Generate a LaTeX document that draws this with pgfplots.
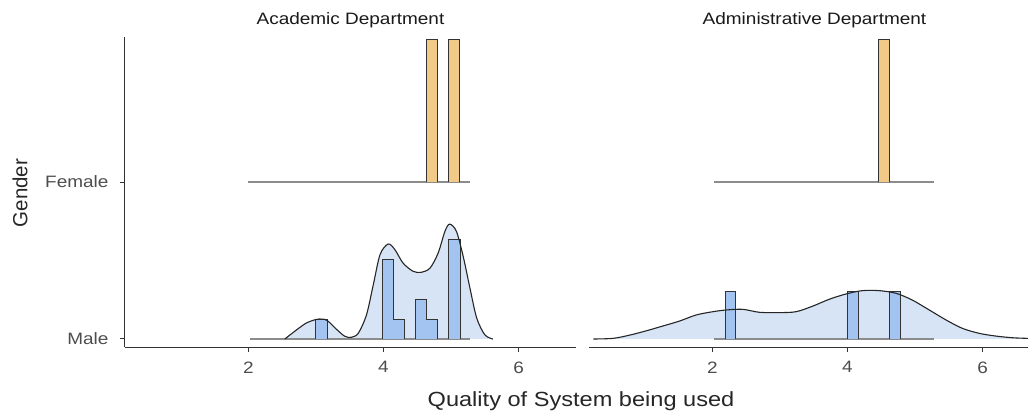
\documentclass[border=0pt]{standalone}
\usepackage{pgfplots}
\pgfplotsset{compat=1.18}
\usepackage{fontspec}
\setmainfont{Liberation Sans}[FakeStretch=1.15]
\newfontfamily\plainfont{Liberation Sans}
\definecolor{densfill}{RGB}{214,228,246}
\definecolor{histfill}{RGB}{163,195,240}
\definecolor{femfill}{RGB}{241,202,136}
\definecolor{axcol}{RGB}{51,51,51}
\definecolor{tickcol}{RGB}{77,77,77}
\definecolor{basecol}{RGB}{140,140,140}
\pgfplotsset{
 ridge/.style={
  scale only axis, width=451pt, height=310pt,
  xmin=0.175, xmax=6.85, ymin=0.949, ymax=2.924,
  axis x line=bottom, axis y line=left,
  axis line style={-, draw=axcol, line width=1pt},
  xtick={2,4,6}, tick align=outside, major tick length=5pt,
  tick style={draw=axcol, line width=1pt},
  ticklabel style={font=\fontsize{16.5}{18}\selectfont, text=tickcol},
  xticklabel style={yshift=-6pt},
  yticklabel style={xshift=-8pt},
  /pgf/number format/assume math mode=true,
  title style={at={(0.5,1)}, anchor=center, yshift=11pt, font=\fontsize{16.5}{18}\selectfont, text=black!90},
 },
 dens/.style={draw=black!85, line width=1.1pt, smooth, tension=0.5},
 densf/.style={fill=densfill, draw=none, smooth, tension=0.5},
 hbar/.style={fill=histfill, draw=black!80, line width=1pt},
 fbar/.style={fill=femfill, draw=black!80, line width=1pt},
 base/.style={draw=basecol, line width=1.5pt},
}
\begin{document}
\begin{tikzpicture}
\begin{axis}[ridge, at={(125pt,63pt)}, anchor=south west,
  ytick={1,2}, yticklabels={Male,Female},
  title={Academic Department}]
% Male density fill
\addplot[densf] coordinates {(2.54,1.000) (2.72,1.060) (2.86,1.102) (3.00,1.124) (3.09,1.127) (3.17,1.117) (3.31,1.060) (3.43,1.017) (3.53,1.011) (3.63,1.038) (3.75,1.155) (3.85,1.346) (3.95,1.538) (4.07,1.605) (4.17,1.569) (4.29,1.484) (4.44,1.431) (4.56,1.425) (4.69,1.452) (4.81,1.548) (4.91,1.686) (4.98,1.732) (5.08,1.686) (5.18,1.527) (5.28,1.325) (5.38,1.134) (5.50,1.027) (5.62,1.000)};
% histogram baseline
\addplot[base] coordinates {(2.02,1) (5.28,1)};
\addplot[hbar] coordinates {(3.00,1) (3.00,1.124) (3.165,1.124) (3.165,1)};
\addplot[hbar] coordinates {(3.98,1) (3.98,1.506) (4.145,1.506) (4.145,1.127) (4.31,1.127) (4.31,1)};
\addplot[hbar] coordinates {(4.475,1) (4.475,1.252) (4.64,1.252) (4.64,1.127) (4.805,1.127) (4.805,1)};
\addplot[hbar] coordinates {(4.97,1) (4.97,1.633) (5.135,1.633) (5.135,1)};
% Male density line
\addplot[dens] coordinates {(2.54,1.000) (2.72,1.060) (2.86,1.102) (3.00,1.124) (3.09,1.127) (3.17,1.117) (3.31,1.060) (3.43,1.017) (3.53,1.011) (3.63,1.038) (3.75,1.155) (3.85,1.346) (3.95,1.538) (4.07,1.605) (4.17,1.569) (4.29,1.484) (4.44,1.431) (4.56,1.425) (4.69,1.452) (4.81,1.548) (4.91,1.686) (4.98,1.732) (5.08,1.686) (5.18,1.527) (5.28,1.325) (5.38,1.134) (5.50,1.027) (5.62,1.000)};
% Female
\addplot[base] coordinates {(2.0,2) (5.28,2)};
\addplot[fbar] coordinates {(4.64,2) (4.64,2.909) (4.80,2.909) (4.80,2)};
\addplot[fbar] coordinates {(4.96,2) (4.96,2.909) (5.12,2.909) (5.12,2)};
\end{axis}
\begin{axis}[ridge, at={(589pt,63pt)}, anchor=south west,
  axis y line=none,
  ytick=\empty,
  title={Administrative Department}]
\addplot[densf] coordinates {(0.24,1.000) (0.53,1.004) (0.78,1.025) (1.03,1.053) (1.27,1.083) (1.52,1.115) (1.76,1.153) (2.01,1.174) (2.21,1.185) (2.45,1.189) (2.70,1.170) (2.99,1.168) (3.24,1.174) (3.49,1.210) (3.73,1.253) (3.98,1.287) (4.22,1.308) (4.47,1.308) (4.72,1.291) (4.96,1.248) (5.21,1.185) (5.46,1.121) (5.70,1.068) (5.95,1.036) (6.19,1.019) (6.44,1.008) (6.66,1.004) (6.90,1.000)};
\addplot[base] coordinates {(2.03,1) (5.28,1)};
\addplot[hbar] coordinates {(2.19,1) (2.19,1.301) (2.35,1.301) (2.35,1)};
\addplot[hbar] coordinates {(4.00,1) (4.00,1.301) (4.16,1.301) (4.16,1)};
\addplot[hbar] coordinates {(4.62,1) (4.62,1.301) (4.78,1.301) (4.78,1)};
\addplot[dens] coordinates {(0.24,1.000) (0.53,1.004) (0.78,1.025) (1.03,1.053) (1.27,1.083) (1.52,1.115) (1.76,1.153) (2.01,1.174) (2.21,1.185) (2.45,1.189) (2.70,1.170) (2.99,1.168) (3.24,1.174) (3.49,1.210) (3.73,1.253) (3.98,1.287) (4.22,1.308) (4.47,1.308) (4.72,1.291) (4.96,1.248) (5.21,1.185) (5.46,1.121) (5.70,1.068) (5.95,1.036) (6.19,1.019) (6.44,1.008) (6.66,1.004) (6.90,1.000)};
\addplot[base] coordinates {(2.03,2) (5.28,2)};
\addplot[fbar] coordinates {(4.46,2) (4.46,2.909) (4.62,2.909) (4.62,2)};
\end{axis}
\node[font=\fontsize{20.5}{22}\selectfont, text=black!85] at (581pt,9pt) {Quality of System being used};
\node[rotate=90, font=\plainfont\fontsize{20.5}{22}\selectfont, text=black!85] at (20pt,217pt) {Gender};
\pgfresetboundingbox
\path[use as bounding box] (0,0) rectangle (1028pt,410pt);
\end{tikzpicture}
\end{document}
